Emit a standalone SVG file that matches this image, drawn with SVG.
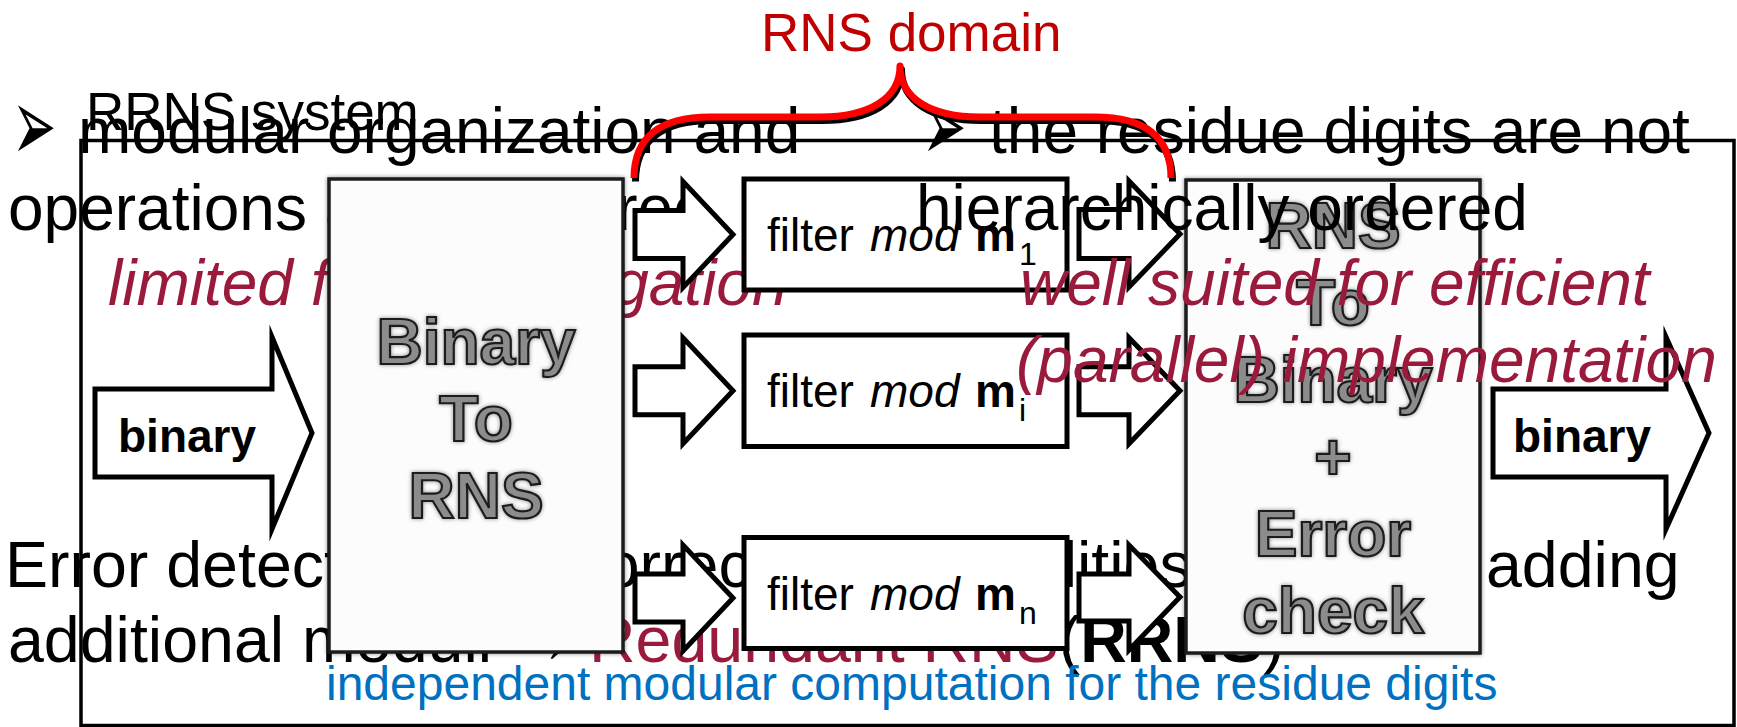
<svg xmlns="http://www.w3.org/2000/svg" width="1737" height="727" viewBox="0 0 1737 727">
  <style>
    text { font-family: "Liberation Sans", Arial, sans-serif; }
    .big { font-size: 64px; fill: #000; }
    .big2 { font-size: 64.5px; fill: #000; }
    .em { font-style: italic; fill: #9a1a3c; }
    .red { fill: #9a1a3c; }
    .bul { font-family: "DejaVu Sans", sans-serif; font-size: 53px; fill: #000; }
    .frame { fill: none; stroke: #000; stroke-width: 3.5; }
    .shape { fill: #fff; stroke: #000; stroke-width: 5; stroke-linejoin: miter; stroke-miterlimit: 10; }
    .box { fill: #fcfcfc; stroke: #1e1e1e; stroke-width: 3.5; }
    .blk { font-weight: bold; font-size: 64px; fill: #8c8c8c; stroke: #1c1c1c; stroke-width: 2.2; text-anchor: middle; }
    .flt { font-size: 46px; fill: #000; }
    .lbl { font-size: 46px; font-weight: bold; fill: #000; }
    .brace { fill: none; stroke-width: 7; stroke-linejoin: round; stroke-linecap: butt; }
  </style>
  <defs>
    <!-- soft embossed look for the converter blocks -->
    <filter id="soft" x="-5%" y="-5%" width="110%" height="110%">
      <feGaussianBlur in="SourceAlpha" stdDeviation="2" result="b"/>
      <feFlood flood-color="#000" flood-opacity="0.45"/>
      <feComposite in2="b" operator="in" result="s"/>
      <feGaussianBlur in="SourceGraphic" stdDeviation="0.7" result="g"/>
      <feMerge><feMergeNode in="s"/><feMergeNode in="g"/></feMerge>
    </filter>
    <path id="bracePath" d="M 634 178 C 634 137 660 117 710 117 L 820 117 C 870 117 900 98 900 66 C 900 98 930 117 980 117 L 1095 117 C 1145 117 1171 137 1171 178"/>
  </defs>

  <!-- outer frame -->
  <rect class="frame" x="81" y="140.5" width="1653" height="585"/>

  <!-- left column and bottom notes (underneath the blocks) -->
  <g id="notes-left">
    <text class="bul" transform="translate(12,161) scale(1,1.97)">➢</text>
    <text x="86" y="130" font-size="53" fill="#000">RRNS system</text>
    <text class="big" x="78" y="153">modular organization and</text>
    <text class="big" x="8" y="230">operations are carry-free</text>
    <text class="big em" x="108" y="305">limited fault propagation</text>
    <text class="big2" x="5" y="587">Error detection and correction capabilities by<tspan x="1486">adding</tspan></text>
    <text class="big2" x="8" y="662">additional moduli → <tspan x="589" class="red">Redundant RNS</tspan>(<tspan font-weight="bold">RRNS</tspan>)</text>
  </g>

  <!-- block arrows between the stages -->
  <g id="connectors">
    <polygon class="shape" points="635,210.5 683,210.5 683,181.5 733,234.5 683,287.5 683,258.5 635,258.5"/>
    <polygon class="shape" points="635,366.75 683,366.75 683,337.75 733,390.75 683,443.75 683,414.75 635,414.75"/>
    <polygon class="shape" points="635,574 683,574 683,545 733,598 683,651 683,622 635,622"/>
    <polygon class="shape" points="1079,209.5 1129,209.5 1129,181 1180,234 1129,287 1129,258.5 1079,258.5"/>
    <polygon class="shape" points="1079,366.75 1129,366.75 1129,337.75 1180,390.75 1129,443.75 1129,414.75 1079,414.75"/>
    <polygon class="shape" points="1079,574 1129,574 1129,545 1180,597 1129,650 1129,621 1079,621"/>
  </g>

  <g id="in-binary">
    <polygon class="shape" points="95,389 272,389 272,337 312,433 272,529 272,477 95,477"/>
    <text class="lbl" x="118" y="452">binary</text>
  </g>

  <g id="bin-to-rns">
    <rect class="box" x="329" y="179" width="294" height="473" filter="url(#soft)"/>
    <g class="blk" filter="url(#soft)">
      <text x="476" y="364">Binary</text>
      <text x="476" y="441">To</text>
      <text x="476" y="518">RNS</text>
    </g>
  </g>

  <g id="filter-m1">
    <rect class="shape" x="744" y="179" width="323" height="111"/>
    <text class="flt" x="767" y="251">filter <tspan font-style="italic" x="870">mod</tspan> <tspan font-weight="bold" x="975">m</tspan><tspan font-size="32" x="1019" dy="14">1</tspan></text>
  </g>
  <g id="filter-mi">
    <rect class="shape" x="744" y="335" width="323" height="111.5"/>
    <text class="flt" x="767" y="407">filter <tspan font-style="italic" x="870">mod</tspan> <tspan font-weight="bold" x="975">m</tspan><tspan font-size="32" x="1019" dy="14">i</tspan></text>
  </g>
  <g id="filter-mn">
    <rect class="shape" x="744" y="537.5" width="323" height="111"/>
    <text class="flt" x="767" y="609.5">filter <tspan font-style="italic" x="870">mod</tspan> <tspan font-weight="bold" x="975">m</tspan><tspan font-size="32" x="1019" dy="14">n</tspan></text>
  </g>

  <g id="rns-to-bin">
    <rect class="box" x="1186" y="180" width="294" height="473" filter="url(#soft)"/>
    <g class="blk" filter="url(#soft)">
      <text x="1333" y="248">RNS</text>
      <text x="1333" y="325">To</text>
      <text x="1333" y="402">Binary</text>
      <text x="1333" y="479">+</text>
      <text x="1333" y="556">Error</text>
      <text x="1333" y="633">check</text>
    </g>
  </g>

  <g id="out-binary">
    <polygon class="shape" points="1493,389 1666,389 1666,337 1709,433 1666,529 1666,477 1493,477"/>
    <text class="lbl" x="1513" y="452">binary</text>
  </g>

  <!-- right column notes (drawn over the blocks) -->
  <g id="notes-right">
    <text class="bul" transform="translate(922,161) scale(1,1.97)">➢</text>
    <text class="big" x="989" y="153">the residue digits are not</text>
    <text class="big" x="916" y="230">hierarchically ordered</text>
    <text class="big em" x="1020" y="305">well suited for efficient</text>
    <text class="big em" x="1016" y="382">(parallel) implementation</text>
  </g>

  <text id="caption" x="326" y="700" font-size="48" fill="#0070c0">independent modular computation for the residue digits</text>

  <!-- RNS domain brace -->
  <g id="rns-domain">
    <use href="#bracePath" class="brace" stroke="#000" transform="translate(1.5,3.5)"/>
    <use href="#bracePath" class="brace" stroke="#ff0000"/>
    <text x="761" y="51" font-size="53" fill="#c00000">RNS domain</text>
  </g>
</svg>
